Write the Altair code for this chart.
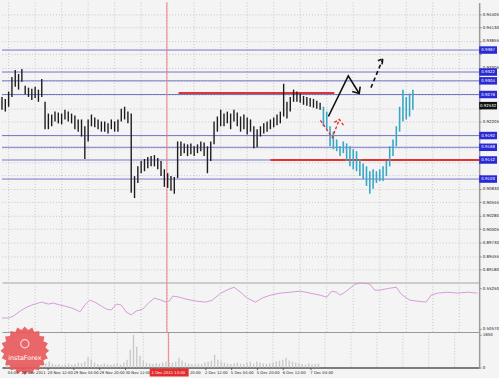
import math
import json
import altair as alt
import pandas as pd

# ---------------- data ----------------
# hourly bar index (x) ; prices
bar_idx = list(range(0, 193, 2))
bar_high = [0.9271,0.9267,0.9282,0.9312,0.9326,0.9318,0.9328,0.9294,0.9290,0.9288,0.9292,0.9286,0.9308,
            0.9261,0.9237,0.9235,0.9241,0.9239,0.9237,0.9245,0.9241,0.9237,0.9233,0.9225,0.9225,0.9211,
            0.9225,0.9235,0.9229,0.9225,0.9221,0.9221,0.9217,0.9225,0.9221,0.9225,0.9247,0.9251,0.9241,
            0.9237,0.9109,0.9129,0.9140,0.9144,0.9148,0.9150,0.9152,0.9146,0.9140,0.9123,0.9115,0.9109,0.9107,
            0.9180,0.9180,0.9176,0.9174,0.9176,0.9170,0.9174,0.9180,0.9178,0.9170,0.9180,0.9221,0.9231,
            0.9245,0.9237,0.9241,0.9237,0.9245,0.9239,0.9231,0.9235,0.9229,0.9225,0.9211,0.9205,0.9211,
            0.9217,0.9221,0.9225,0.9229,0.9235,0.9241,0.9298,0.9261,0.9271,0.9286,0.9282,0.9278,0.9273,0.9271,0.9269,0.9267,0.9263,0.9259]
bar_low = [0.9245,0.9241,0.9251,0.9271,0.9292,0.9286,0.9302,0.9276,0.9271,0.9265,0.9269,0.9261,0.9271,
           0.9205,0.9205,0.9211,0.9221,0.9217,0.9215,0.9225,0.9221,0.9217,0.9205,0.9200,0.9190,0.9144,
           0.9180,0.9211,0.9209,0.9205,0.9200,0.9200,0.9196,0.9205,0.9200,0.9200,0.9221,0.9225,0.9217,
           0.9075,0.9064,0.9095,0.9115,0.9119,0.9125,0.9129,0.9129,0.9123,0.9109,0.9087,0.9085,0.9079,0.9073,
           0.9105,0.9150,0.9156,0.9150,0.9154,0.9150,0.9156,0.9160,0.9150,0.9115,0.9140,0.9174,0.9200,
           0.9211,0.9211,0.9217,0.9205,0.9221,0.9211,0.9200,0.9205,0.9194,0.9200,0.9166,0.9168,0.9190,
           0.9196,0.9200,0.9205,0.9209,0.9213,0.9217,0.9231,0.9227,0.9241,0.9261,0.9261,0.9259,0.9255,0.9253,0.9251,0.9249,0.9247,0.9245]
volume = [150,120,200,180,250,150,120,180,200,150,130,180,220,
          300,200,150,180,120,160,200,150,180,250,220,300,550,
          400,250,180,150,200,160,140,180,200,150,250,400,900,
          1650,1050,600,350,250,200,180,220,200,250,300,280,250,300,
          500,350,250,200,180,150,200,180,250,300,350,650,400,
          300,250,200,180,220,250,200,180,250,300,200,300,250,
          200,180,220,250,300,350,400,500,350,300,250,200,180,150,200,150,180,200]

proj_idx = list(range(194, 249, 2))
proj_high = [0.9251,0.9241,0.9211,0.9200,0.9184,0.9170,0.9180,0.9176,0.9170,0.9164,0.9160,0.9144,0.9135,0.9129,
             0.9119,0.9123,0.9119,0.9123,0.9129,0.9140,0.9170,0.9184,0.9211,0.9251,0.9286,0.9271,0.9278,0.9286]
proj_low = [0.9211,0.9205,0.9170,0.9164,0.9160,0.9150,0.9156,0.9140,0.9129,0.9123,0.9119,0.9109,0.9103,0.9089,
            0.9073,0.9083,0.9095,0.9099,0.9099,0.9109,0.9129,0.9150,0.9170,0.9200,0.9221,0.9225,0.9231,0.9245]

level_prices = [0.9367, 0.9322, 0.9304, 0.9276, 0.9192, 0.9168, 0.9142, 0.9103]
current_price = 0.92532
red_lines_y = [0.9279, 0.9142]
red_lines_x1 = [106.6, 162]
red_lines_x2 = [200.6, 288]
crosshair_idx = 99.5
crosshair_text = "1 Dec 2011 13:00"

price_ticks = [0.89180, 0.89455, 0.89730, 0.90005, 0.90280, 0.90555, 0.90830, 0.91105, 0.91380,
               0.91655, 0.91930, 0.92205, 0.92480, 0.92755, 0.93030, 0.93305, 0.93580, 0.93855,
               0.94130, 0.94405]
# tick labels that the price boxes cover on the right scale
hidden_ticks = ["0.91105", "0.91380", "0.91655", "0.91930", "0.92480", "0.92755", "0.93030", "0.93580"]

x_label_idx = [0.5, 9, 25, 41, 57, 73, 112.8, 122, 138, 154, 170, 187]
x_labels = ["04:00", "28 Nov 2011", "28 Nov 12:00", "29 Nov 04:00", "29 Nov 20:00", "30 Nov 12:00",
            "20:00", "2 Dec 12:00", "5 Dec 04:00", "5 Dec 20:00",
            "6 Dec 12:00", "7 Dec 04:00"]
x_tick_idx = [9, 25, 41, 57, 73, 90, 106, 122, 138, 154, 170, 187]
grid_x = [4, 20, 36, 52, 68, 84, 100, 116, 132, 148, 164, 180, 196, 212, 228, 244, 260, 276]

ind_idx = [0,4,7,11,14,18,22,24,28,31,35,38,42,45,47,50,53,56,60,63,66,69,72,75,78,81,85,89,92,96,
           99,101,103,107,111,117,123,127,132,137,140,144,148,153,157,162,168,174,180,186,192,196,199,
           202,204,207,210,213,216,219,222,225,228,231,234,238,241,246,250,256,259,263,269,275,281,287]
ind_val = [0.5182,0.5182,0.5205,0.5262,0.5297,0.5331,0.5354,0.5365,0.5342,0.5354,0.5331,0.5319,0.5297,
           0.5274,0.5251,0.5331,0.5388,0.5365,0.5319,0.5285,0.5274,0.5342,0.5331,0.5251,0.5217,0.5262,
           0.5285,0.5365,0.5411,0.5388,0.5365,0.5377,0.5434,0.5422,0.5399,0.5377,0.5365,0.5388,0.5468,
           0.5514,0.5536,0.5479,0.5411,0.5365,0.5411,0.5445,0.5468,0.5479,0.5491,0.5468,0.5445,0.5422,
           0.5491,0.5479,0.5445,0.5479,0.5525,0.5571,0.5582,0.5582,0.5571,0.5502,0.5502,0.5514,0.5525,
           0.5536,0.5456,0.5388,0.5377,0.5365,0.5445,0.5468,0.5479,0.5468,0.5479,0.5468]
ind_ticks = [0.50570, 0.55250]
vol_ticks = [0, 1650]

# forecast arrows (drawn annotations)
arr_x = [197, 209, 215.6, 211.4, 215.6, 216.2,
         222.7, 229.9, 226.9, 229.9, 229.3,
         192.2, 199.4, 203.6, 200.6, 203.6, 206.6]
arr_y = [0.9231, 0.9314, 0.9278, 0.9282, 0.9278, 0.9292,
         0.9290, 0.9349, 0.9345, 0.9349, 0.9336,
         0.9223, 0.9188, 0.9225, 0.9219, 0.9225, 0.9211]
arr_grp = ["s1", "s1", "s1", "s2", "s2", "s2",
           "d1", "d1", "d2", "d2", "d2",
           "r1", "r1", "r1", "r2", "r2", "r2"]
arr_style = ["solid"] * 6 + ["dash"] * 5 + ["red"] * 6

assert len(bar_high) == len(bar_idx) == len(bar_low) == len(volume)
assert len(proj_high) == len(proj_idx) == len(proj_low)
assert len(ind_idx) == len(ind_val)
assert len(x_label_idx) == len(x_labels)

# ---------------- frames ----------------
bars = pd.DataFrame({"idx": bar_idx, "high": bar_high, "low": bar_low, "vol": volume})
proj = pd.DataFrame({"idx": proj_idx, "high": proj_high, "low": proj_low})
levels = pd.DataFrame({"price": level_prices, "label": [f"{p:.4f}" for p in level_prices]})
cur = pd.DataFrame({"price": [current_price], "label": [f"{current_price:.5f}"]})
reds = pd.DataFrame({"y": red_lines_y, "x1": red_lines_x1, "x2": red_lines_x2})
cross = pd.DataFrame({"idx": [crosshair_idx], "x1": [88], "x2": [112], "t": [crosshair_text]})
gridf = pd.DataFrame({"g": grid_x})
xl = pd.DataFrame({"idx": x_label_idx, "t": x_labels})
ind = pd.DataFrame({"idx": ind_idx, "v": ind_val})
arr = pd.DataFrame({"x": arr_x, "y": arr_y, "grp": arr_grp, "style": arr_style,
                    "o": list(range(len(arr_x)))})

W = 481
BG = "#f4f4f4"
GRID = "#c6c6c6"
xscale = alt.Scale(domain=[0, 288], nice=False, zero=False)
xaxis_plain = alt.Axis(labels=False, ticks=False, grid=False, domain=True, domainColor="#555",
                       domainWidth=2, title=None)


def X(field):
    return alt.X(field, type="quantitative", scale=xscale, axis=xaxis_plain)


def vgrid():
    return alt.Chart(gridf).mark_rule(color=GRID, strokeDash=[1, 2], strokeWidth=1).encode(x=X("g"))


def cross_rule():
    return alt.Chart(cross).mark_rule(color="#f08080", strokeWidth=1).encode(x=X("idx"))


# ---------------- main panel ----------------
yscale = alt.Scale(domain=[0.88898, 0.94643], nice=False, zero=False)
label_expr = "indexof(" + json.dumps(hidden_ticks).replace('"', "'") + ", datum.label) >= 0 ? '' : datum.label"
yaxis = alt.Axis(orient="right", values=price_ticks, format=".5f", labelFontSize=4, labelColor="#222",
                 labelExpr=label_expr,
                 grid=True, gridDash=[1, 2], gridColor=GRID, tickSize=2, tickColor="#888",
                 domainColor="#9a9a9a", domainWidth=1.5, labelPadding=1, title=None)


def Y(field):
    return alt.Y(field, type="quantitative", scale=yscale, axis=yaxis)


lvl = alt.Chart(levels).mark_rule(color="#7474c8", strokeWidth=1).encode(y=Y("price"))
redl = alt.Chart(reds).mark_rule(color="#e03434", strokeWidth=2).encode(
    x=X("x1"), x2="x2", y=Y("y"))
blk = alt.Chart(bars).mark_rule(color="#1c1c1c", strokeWidth=1.4).encode(
    x=X("idx"), y=Y("high"), y2="low")
cyan = alt.Chart(proj).mark_rule(color="#36a8c6", strokeWidth=1.6).encode(
    x=X("idx"), y=Y("high"), y2="low")
a_solid = alt.Chart(arr).transform_filter(alt.datum.style == "solid").mark_line(
    color="#111", strokeWidth=1.6).encode(x=X("x"), y=Y("y"), detail="grp:N", order="o:Q")
a_dash = alt.Chart(arr).transform_filter(alt.datum.style == "dash").mark_line(
    color="#111", strokeWidth=1.6, strokeDash=[4, 3]).encode(x=X("x"), y=Y("y"), detail="grp:N", order="o:Q")
a_red = alt.Chart(arr).transform_filter(alt.datum.style == "red").mark_line(
    color="#e03434", strokeWidth=1.4, strokeDash=[3, 2]).encode(x=X("x"), y=Y("y"), detail="grp:N", order="o:Q")

box_path = "M-1,-0.42L1,-0.42L1,0.42L-1,0.42Z"
boxes = alt.Chart(levels).mark_point(shape=box_path, size=324, filled=True, opacity=1,
                                     color="#2a2ad4").encode(x=alt.value(490), y=Y("price"))
box_t = alt.Chart(levels).mark_text(fontSize=4, color="white").encode(
    x=alt.value(490), y=Y("price"), text="label")
cbox = alt.Chart(cur).mark_point(shape=box_path, size=324, filled=True, opacity=1,
                                 color="#111").encode(x=alt.value(490), y=Y("price"))
cbox_t = alt.Chart(cur).mark_text(fontSize=4, color="white").encode(
    x=alt.value(490), y=Y("price"), text="label")

main = alt.layer(vgrid(), lvl, redl, cross_rule(), blk, cyan, a_red, a_solid, a_dash,
                 boxes, box_t, cbox, cbox_t).properties(width=W, height=283)

# ---------------- indicator panel ----------------
iscale = alt.Scale(domain=[0.5011, 0.5582], nice=False, zero=False)
iaxis = alt.Axis(orient="right", values=ind_ticks, format=".5f", labelFontSize=4, labelColor="#222",
                 grid=False, tickSize=2, tickColor="#888", domainColor="#9a9a9a", domainWidth=1.5,
                 labelPadding=1, title=None)
ind_line = alt.Chart(ind).mark_line(color="#d79ad9", strokeWidth=1).encode(
    x=X("idx"), y=alt.Y("v:Q", scale=iscale, axis=iaxis))
indp = alt.layer(vgrid(), cross_rule(), ind_line).properties(width=W, height=50)

# ---------------- volume panel ----------------
vscale = alt.Scale(domain=[0, 1750], nice=False)
vaxis = alt.Axis(orient="right", values=vol_ticks, format="d", labelFontSize=4, labelColor="#222",
                 grid=False, tickSize=2, tickColor="#888", domainColor="#9a9a9a", domainWidth=1.5,
                 labelPadding=1, title=None)
xaxis_bottom = alt.Axis(values=x_tick_idx, labels=False, ticks=True, tickSize=2,
                        tickColor="#555", grid=False, domain=True, domainColor="#555", domainWidth=1.5,
                        title=None)
vol_bars = alt.Chart(bars).mark_bar(color="#c9c9c9", width=1.4).encode(
    x=alt.X("idx:Q", scale=xscale, axis=xaxis_bottom), y=alt.Y("vol:Q", scale=vscale, axis=vaxis))

n = 20
pts = []
for k in range(2 * n):
    r = 1.0 if k % 2 == 0 else 0.86
    a = math.pi * k / n
    pts.append(f"{r * math.cos(a):.3f},{r * math.sin(a):.3f}")
star = "M" + "L".join(pts) + "Z"
logo_df = pd.DataFrame({"t": ["instaForex"]})
logo = alt.Chart(logo_df).mark_point(shape=star, size=2400, filled=True, color="#e8585a",
                                     opacity=0.9).encode(x=alt.value(23), y=alt.value(18))
logo_icon = alt.Chart(logo_df).mark_point(shape="circle", size=70, filled=False, color="white",
                                          strokeWidth=1.2).encode(x=alt.value(23), y=alt.value(11))
logo_t = alt.Chart(logo_df).mark_text(fontSize=6.5, color="white", font="DejaVu Sans").encode(
    x=alt.value(23), y=alt.value(25), text="t")
xlab = alt.Chart(xl).mark_text(fontSize=3.8, color="#222", align="left", baseline="middle").encode(
    x=alt.X("idx:Q", scale=xscale, axis=xaxis_bottom), y=alt.value(40), text="t")
cbox_x = alt.Chart(cross).mark_rect(color="#e42c2c").encode(
    x=alt.X("x1:Q", scale=xscale, axis=xaxis_bottom), x2="x2", y=alt.value(36), y2=alt.value(44))
cbox_xt = alt.Chart(cross).mark_text(fontSize=3.8, color="white", baseline="middle").encode(
    x=alt.X("idx:Q", scale=xscale, axis=xaxis_bottom), y=alt.value(40), text="t")
vgrid_v = alt.Chart(gridf).mark_rule(color=GRID, strokeDash=[1, 2], strokeWidth=1).encode(
    x=alt.X("g:Q", scale=xscale, axis=xaxis_bottom))
cross_v = alt.Chart(cross).mark_rule(color="#f08080", strokeWidth=1).encode(
    x=alt.X("idx:Q", scale=xscale, axis=xaxis_bottom))

volp = alt.layer(vgrid_v, cross_v, vol_bars, logo, logo_icon, logo_t, xlab, cbox_x, cbox_xt).properties(
    width=W, height=35)

chart = alt.vconcat(main, indp, volp, spacing=0, bounds="flush").properties(
    padding=0, background=BG
).configure_view(stroke=None, fill=BG).configure_text(font="DejaVu Sans").configure_axis(
    labelFont="DejaVu Sans")

chart.save("out.html", embed_options={"renderer": "svg", "actions": False})
